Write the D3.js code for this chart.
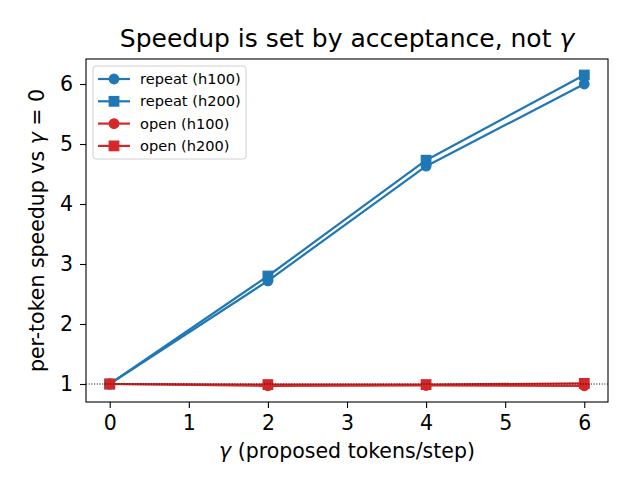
<!DOCTYPE html>
<html lang="en">
<head>
  <meta charset="UTF-8">
  <title>Speedup is set by acceptance, not gamma</title>
  <script src="https://d3js.org/d3.v7.min.js"></script>
  <style>
    body { margin: 0; background: white; font-family: "DejaVu Sans", sans-serif; }
    svg text { fill: #000; }
  </style>
</head>
<body>
  <div id="chart"></div>
  <script>
    // data
    const gammas = [0, 2, 4, 6];
    const repeatH100 = [1.0, 2.72, 4.63, 6.0];
    const repeatH200 = [1.0, 2.80, 4.73, 6.15];
    const openH100 = [1.0, 0.97, 0.975, 0.97];
    const openH200 = [1.0, 0.99, 0.99, 1.01];
    const xTicks = [0, 1, 2, 3, 4, 5, 6];
    const yTicks = [1, 2, 3, 4, 5, 6];

    const series = [
      {name: "repeat (h100)", values: repeatH100, color: "#1f77b4", marker: "circle"},
      {name: "repeat (h200)", values: repeatH200, color: "#1f77b4", marker: "square"},
      {name: "open (h100)", values: openH100, color: "#d62728", marker: "circle"},
      {name: "open (h200)", values: openH200, color: "#d62728", marker: "square"}
    ];

    const W = 630, H = 495;
    const margin = {top: 59, right: 22, bottom: 93, left: 86};
    const width = W - margin.left - margin.right,
          height = H - margin.top - margin.bottom;

    const svg = d3.select("#chart").append("svg")
      .attr("width", W).attr("height", H);

    const g = svg.append("g")
      .attr("transform", `translate(${margin.left},${margin.top})`);

    const x = d3.scaleLinear().domain([-0.3, 6.3]).range([0, width]);
    const y = d3.scaleLinear().domain([0.7, 6.417]).range([height, 0]);

    const line = d3.line().x((d, i) => x(gammas[i])).y(d => y(d));
    const ms = 9.6;

    function drawMarker(sel, m, color) {
      if (m === "circle") {
        sel.append("circle").attr("r", ms / 2).attr("fill", color)
          .attr("stroke", color).attr("stroke-width", 1.2);
      } else {
        sel.append("rect").attr("x", -ms / 2).attr("y", -ms / 2)
          .attr("width", ms).attr("height", ms).attr("fill", color)
          .attr("stroke", color).attr("stroke-width", 1.2);
      }
    }

    series.forEach(s => {
      g.append("path").datum(s.values)
        .attr("d", line).attr("fill", "none")
        .attr("stroke", s.color).attr("stroke-width", 2.2)
        .attr("stroke-linejoin", "round").attr("stroke-linecap", "square");
      s.values.forEach((v, i) => {
        const mg = g.append("g").attr("transform", `translate(${x(gammas[i])},${y(v)})`);
        drawMarker(mg, s.marker, s.color);
      });
    });

    // reference line at 1
    g.append("line")
      .attr("x1", 0).attr("x2", width)
      .attr("y1", y(1)).attr("y2", y(1))
      .attr("stroke", "#000").attr("stroke-width", 1)
      .attr("stroke-dasharray", "1,1.7");

    // axes
    const xAxis = d3.axisBottom(x).tickValues(xTicks).tickSize(6).tickPadding(7).tickFormat(d3.format("d"));
    const yAxis = d3.axisLeft(y).tickValues(yTicks).tickSize(6).tickPadding(7).tickFormat(d3.format("d"));

    const gx = g.append("g").attr("transform", `translate(0,${height})`).call(xAxis);
    const gy = g.append("g").call(yAxis);
    [gx, gy].forEach(a => {
      a.select(".domain").remove();
      a.selectAll(".tick line").attr("stroke", "#000").attr("stroke-width", 1.1);
      a.selectAll(".tick text").style("font-family", "DejaVu Sans").style("font-size", "20.5px");
    });

    // frame
    g.append("rect").attr("width", width).attr("height", height)
      .attr("fill", "none").attr("stroke", "#000").attr("stroke-width", 1.1);

    // title
    const title = svg.append("text")
      .attr("x", margin.left + width / 2).attr("y", 47)
      .attr("text-anchor", "middle")
      .style("font-size", "25px");
    title.append("tspan").text("Speedup is set by acceptance, not ");
    title.append("tspan").style("font-style", "italic").text("γ");

    // x label
    const xl = svg.append("text")
      .attr("x", margin.left + width / 2).attr("y", 458)
      .attr("text-anchor", "middle")
      .style("font-size", "20.5px");
    xl.append("tspan").style("font-style", "italic").text("γ");
    xl.append("tspan").text(" (proposed tokens/step)");

    // y label
    const yl = svg.append("text")
      .attr("transform", `translate(44,${margin.top + height / 2}) rotate(-90)`)
      .attr("text-anchor", "middle")
      .style("font-size", "20.5px");
    yl.append("tspan").text("per-token speedup vs ");
    yl.append("tspan").style("font-style", "italic").text("γ");
    yl.append("tspan").text(" = 0");

    // legend
    const lg = svg.append("g").attr("transform", "translate(93,66)");
    lg.append("rect").attr("width", 153).attr("height", 93).attr("rx", 3)
      .attr("fill", "white").attr("fill-opacity", 0.8)
      .attr("stroke", "#d0d0d0").attr("stroke-width", 1);
    series.forEach((s, i) => {
      const row = lg.append("g").attr("transform", `translate(0,${13 + i * 22.3})`);
      row.append("line").attr("x1", 5).attr("x2", 37)
        .attr("stroke", s.color).attr("stroke-width", 2.2);
      const mg = row.append("g").attr("transform", "translate(21,0)");
      drawMarker(mg, s.marker, s.color);
      row.append("text").attr("x", 47).attr("y", 5)
        .style("font-size", "14.6px").text(s.name);
    });
  </script>
</body>
</html>
